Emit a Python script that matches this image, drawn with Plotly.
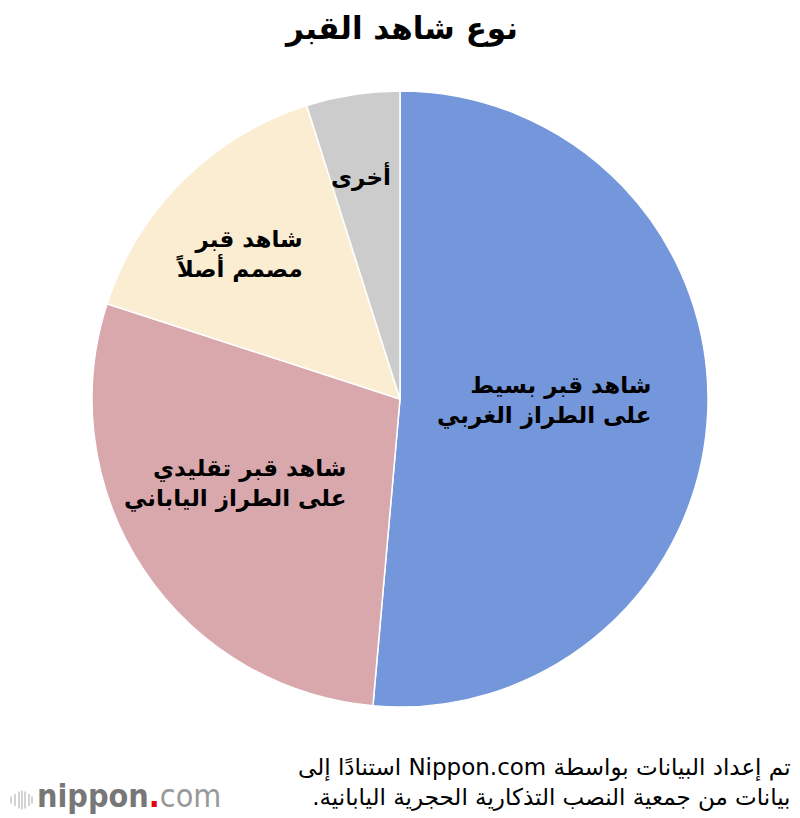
import plotly.graph_objects as go

categories = ["شاهد قبر بسيط<br>على الطراز الغربي",
              "شاهد قبر تقليدي<br>على الطراز الياباني",
              "شاهد قبر<br>مصمم أصلاً",
              "أخرى"]
values = [51.4, 28.6, 15.1, 4.9]
colors = ["#7496DB", "#D9A8AD", "#FBEDD2", "#CCCCCC"]

W, H = 800, 818
cx, cy, r = 392, 391, 308

fig = go.Figure(go.Pie(
    labels=categories, values=values, sort=False, direction="clockwise",
    rotation=0, marker=dict(colors=colors, line=dict(color="white", width=1.5)),
    textinfo="none", hoverinfo="label+value", showlegend=False,
    domain=dict(x=[(cx - r) / W, (cx + r) / W],
                y=[(H - cy - r) / H, (H - cy + r) / H]),
))

RLE, PDF = "\u202B", "\u202C"
def rtl(s):
    return "<br>".join(RLE + part + PDF for part in s.split("<br>"))

font = "DejaVu Sans"
label_pos = [(645, 392), (340, 475), (297, 246), (385, 168)]
anns = []
for lab, (x, y) in zip(categories, label_pos):
    anns.append(dict(text="<b>" + rtl(lab) + "</b>", x=x / W, y=1 - y / H, xref="paper", yref="paper",
                     xanchor="right", yanchor="middle", align="right", showarrow=False,
                     font=dict(family=font, size=23, color="black")))

anns.append(dict(text="<b>" + rtl("نوع شاهد القبر") + "</b>", x=393 / W, y=1,
                 xref="paper", yref="paper",
                 xanchor="center", yanchor="top", showarrow=False,
                 font=dict(family=font, size=31, color="black")))
anns.append(dict(text=rtl("تم إعداد البيانات بواسطة Nippon.com استنادًا إلى<br>بيانات من جمعية النصب التذكارية الحجرية اليابانية."),
                 x=785 / W, y=1 - 774 / H, xref="paper", yref="paper",
                 xanchor="right", yanchor="middle", align="right", showarrow=False,
                 font=dict(family=font, size=23, color="black")))
anns.append(dict(text="<b>nippon</b><span style='color:#E60012'><b>.</b></span><span style='color:#999999'>com</span>",
                 x=27 / W, y=1 - 788 / H, xref="paper", yref="paper",
                 xanchor="left", yanchor="middle", showarrow=False,
                 font=dict(family="DejaVu Sans Condensed, DejaVu Sans", size=32, color="#777777")))

shapes = []
bar_x = [3, 7, 11, 14, 17, 21, 24]
bar_h = [7, 12, 17, 19, 17, 12, 7]
for bx, bh in zip(bar_x, bar_h):
    shapes.append(dict(type="line", xref="paper", yref="paper",
                       x0=bx / W, x1=bx / W, y0=1 - (792 - bh / 2) / H, y1=1 - (792 + bh / 2) / H,
                       line=dict(color="#C4C4C4", width=1.5)))

fig.update_layout(width=W, height=H, margin=dict(l=0, r=0, t=0, b=0),
                  paper_bgcolor="white", plot_bgcolor="white",
                  annotations=anns, shapes=shapes)
fig.write_html("out.html")
